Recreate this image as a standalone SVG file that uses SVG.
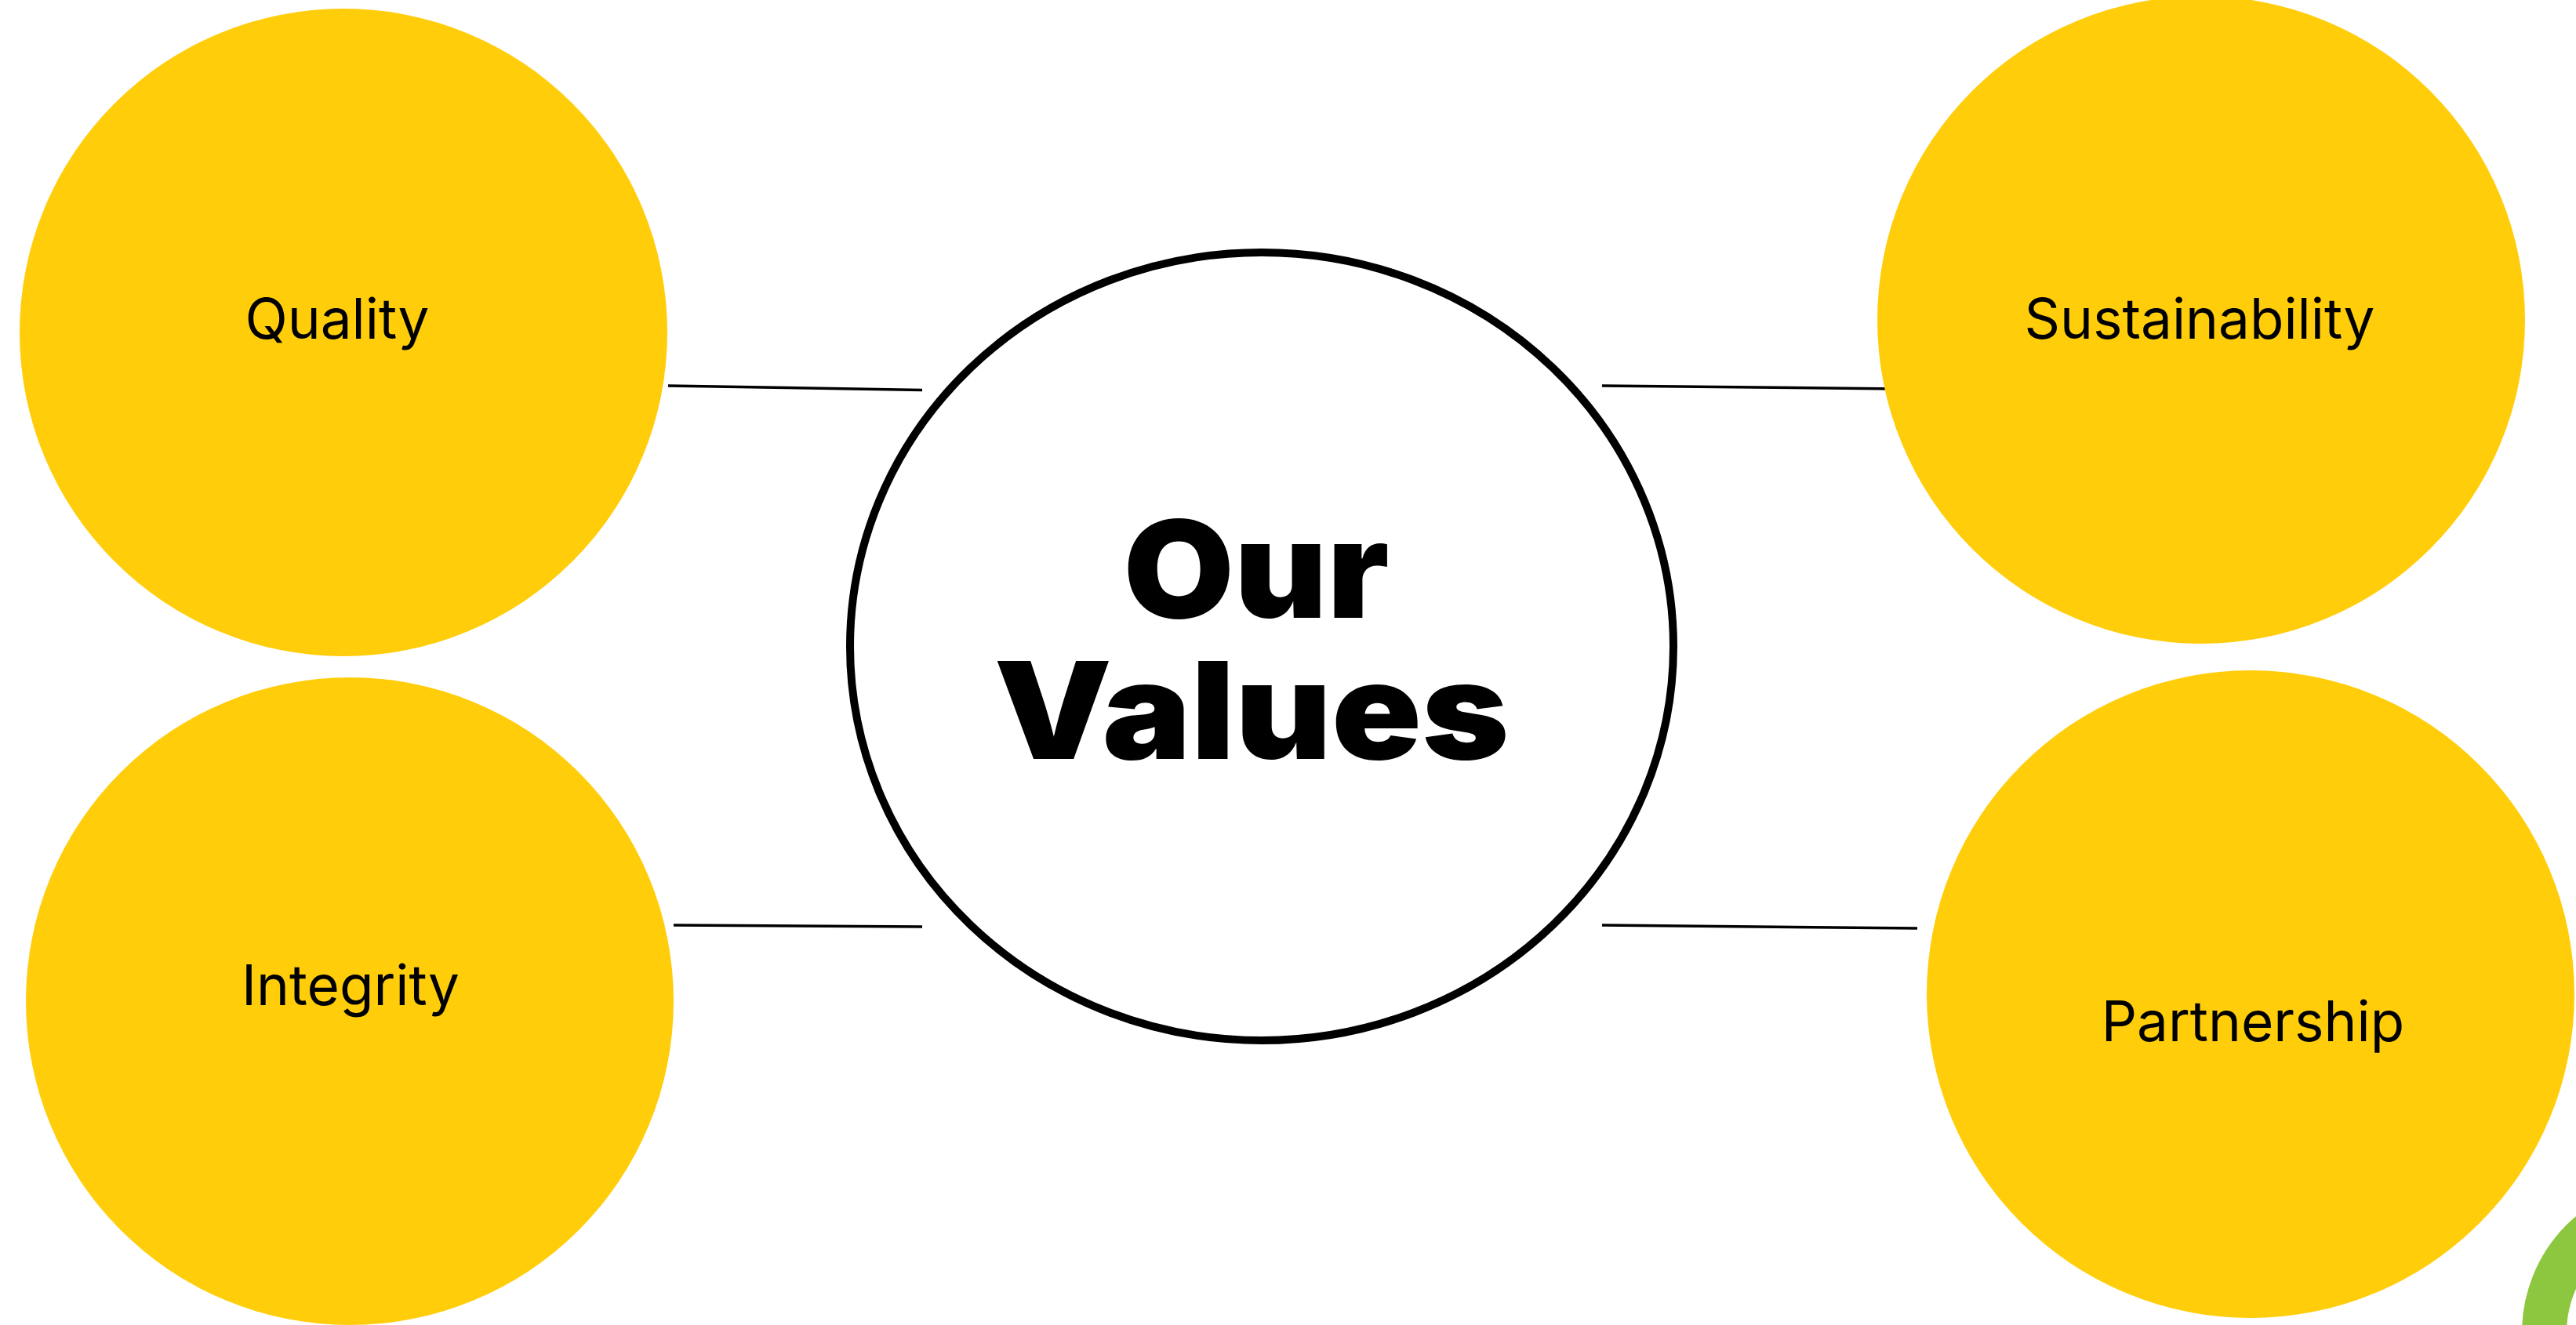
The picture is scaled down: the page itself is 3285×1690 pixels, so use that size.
<svg xmlns="http://www.w3.org/2000/svg" width="3285" height="1690" viewBox="0 0 3285 1690">
<style>
.bubble{fill:#FFCD0A;}
.label{font-family:Inter,"Liberation Sans",sans-serif;font-size:71px;fill:#000;text-anchor:middle;}
.conn{stroke:#000;stroke-width:3.5;fill:none;}
.title{font-family:Inter,"Liberation Sans",sans-serif;font-weight:900;font-size:172px;fill:#000;text-anchor:middle;}
</style>
<rect width="3285" height="1690" fill="#fff"/>
<g id="connectors">
<line class="conn" x1="852" y1="492" x2="1176" y2="497.5"/>
<line class="conn" x1="2043" y1="492" x2="2420" y2="496"/>
<line class="conn" x1="859" y1="1180" x2="1176" y2="1182"/>
<line class="conn" x1="2043" y1="1180" x2="2445" y2="1184"/>
</g>
<g id="node-quality">
<circle class="bubble" cx="438" cy="424" r="413"/>
<text class="label" x="430" y="432">Quality</text>
</g>
<g id="node-integrity">
<circle class="bubble" cx="446" cy="1277" r="413"/>
<text class="label" x="447" y="1282">Integrity</text>
</g>
<g id="node-sustainability">
<circle class="bubble" cx="2807" cy="408" r="413"/>
<text class="label" x="2805" y="432">Sustainability</text>
</g>
<g id="node-partnership">
<circle class="bubble" cx="2870" cy="1268" r="413"/>
<text class="label" x="2873" y="1328">Partnership</text>
</g>
<g id="node-center">
<ellipse cx="1609" cy="824.5" rx="525" ry="502.5" fill="#fff" stroke="#000" stroke-width="10"/>
<text class="title"><tspan x="1602" y="788" textLength="339" lengthAdjust="spacingAndGlyphs">Our</tspan><tspan x="1596" y="968" textLength="657" lengthAdjust="spacingAndGlyphs">Values</tspan></text>
</g>
<g id="decor">
<circle cx="3411" cy="1700" r="166.5" fill="none" stroke="#8DC63F" stroke-width="57"/>
</g>
</svg>
